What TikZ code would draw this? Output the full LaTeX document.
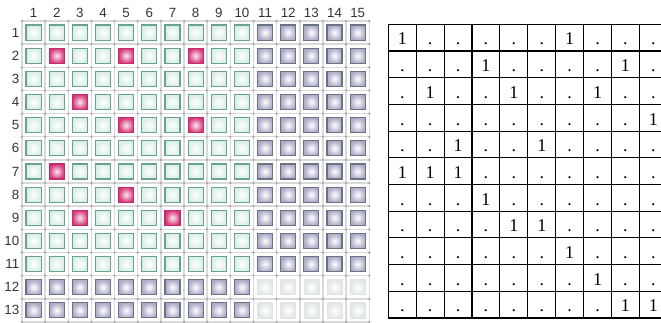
\documentclass[tikz,border=0pt]{standalone}
\usepackage{fontspec}
\setmainfont{Liberation Sans}
\newfontfamily\tabfont{Liberation Serif}
\definecolor{gdGrid}{HTML}{DADADA}
\definecolor{gdDot}{HTML}{A8A8A8}
\definecolor{gdLabel}{HTML}{333333}
\definecolor{sqGreenFill}{HTML}{DAEEE6}
\definecolor{sqGreenLine}{HTML}{6AA291}
\definecolor{sqLilacFill}{HTML}{AEABC8}
\definecolor{sqLilacLine}{HTML}{6A7383}
\definecolor{sqPinkFill}{HTML}{D63C7C}
\definecolor{sqPinkLine}{HTML}{C42B6C}
\definecolor{sqFadeFill}{HTML}{E2E8E5}
\tikzset{
  sq/.style={minimum size=11.3pt, inner sep=0pt, line width=0.85pt, inner color=white},
  sqgreen/.style={sq, draw=sqGreenLine, outer color=sqGreenFill},
  sqlilac/.style={sq, draw=sqLilacLine, outer color=sqLilacFill},
  sqpink/.style={sq, draw=sqPinkLine, inner color=sqPinkFill!12, outer color=sqPinkFill},
  sqfade/.style={sq, draw=sqFadeFill!80!gdGrid, line width=0.4pt, outer color=sqFadeFill},
  axlabel/.style={text=gdLabel, font=\fontsize{10}{11}\selectfont, inner sep=0pt},
  entry/.style={anchor=base, inner sep=0pt, font=\tabfont\fontsize{13.5}{14}\selectfont}
}

\begin{document}
\begin{tikzpicture}[x=0.75pt, y=-0.75pt]
    \useasboundingbox (0,0) rectangle (661,323);
    \clip (0,0) rectangle (661,323);
    % left grid
    \foreach \i in {0,...,15}
      \draw[gdGrid, line width=1.1pt] ({22+\i*23.15},21) -- ({22+\i*23.15},322);
    \foreach \j in {0,...,13}
      \draw[gdGrid, line width=1.1pt] (22,{21+\j*23.15}) -- (369.25,{21+\j*23.15});
    \foreach \i in {0,...,15}
      \foreach \j in {0,...,13}
        \fill[gdDot] ({22+\i*23.15},{21+\j*23.15}) circle (0.95pt);
    % squares
    \foreach \c in {1,...,10}
      \foreach \r in {1,...,11}
        \node[sqgreen] (s-\c-\r) at ({22+(\c-0.5)*23.15},{21+(\r-0.5)*23.15}) {};
    \foreach \c in {11,...,15}
      \foreach \r in {1,...,11}
        \node[sqlilac] (s-\c-\r) at ({22+(\c-0.5)*23.15},{21+(\r-0.5)*23.15}) {};
    \foreach \c in {1,...,10}
      \foreach \r in {12,13}
        \node[sqlilac] (s-\c-\r) at ({22+(\c-0.5)*23.15},{21+(\r-0.5)*23.15}) {};
    \foreach \c in {11,...,15}
      \foreach \r in {12,13}
        \node[sqfade] (s-\c-\r) at ({22+(\c-0.5)*23.15},{21+(\r-0.5)*23.15}) {};
    \foreach \c/\r in {2/2,5/2,8/2,3/4,5/5,8/5,2/7,5/8,3/9,7/9}
      \node[sqpink] (p-\c-\r) at ({22+(\c-0.5)*23.15},{21+(\r-0.5)*23.15}) {};
    % axis numbers
    \foreach \c in {1,...,15}
      \node[axlabel] (col-\c) at ({22+(\c-0.5)*23.15},13) {\c};
    \foreach \r in {1,...,13}
      \node[axlabel, anchor=east] (row-\r) at (19.5,{21+(\r-0.5)*23.15}) {\r};
    % right table
    \foreach \i in {0,...,10}
      \draw[black, line width=0.8pt] ({388.3+\i*27.9},24.3) -- ({388.3+\i*27.9},318);
    \foreach \j in {0,...,11}
      \draw[black, line width=0.8pt] (388.3,{24.3+\j*26.7}) -- (667.3,{24.3+\j*26.7});
    \foreach \line [count=\r] in {
        {1,0,0,0,0,0,1,0,0,0},
        {0,0,0,1,0,0,0,0,1,0},
        {0,1,0,0,1,0,0,1,0,0},
        {0,0,0,0,0,0,0,0,0,1},
        {0,0,1,0,0,1,0,0,0,0},
        {1,1,1,0,0,0,0,0,0,0},
        {0,0,0,1,0,0,0,0,0,0},
        {0,0,0,0,1,1,0,0,0,0},
        {0,0,0,0,0,0,1,0,0,0},
        {0,0,0,0,0,0,0,1,0,0},
        {0,0,0,0,0,0,0,0,1,1}}
      \foreach \v [count=\c] in \line
        \node[entry] (t-\r-\c) at ({388.3+(\c-0.5)*27.9},{24.3+\r*26.7-6}) {\ifnum\v=1 1\else.\fi};
  \end{tikzpicture}
\end{document}
